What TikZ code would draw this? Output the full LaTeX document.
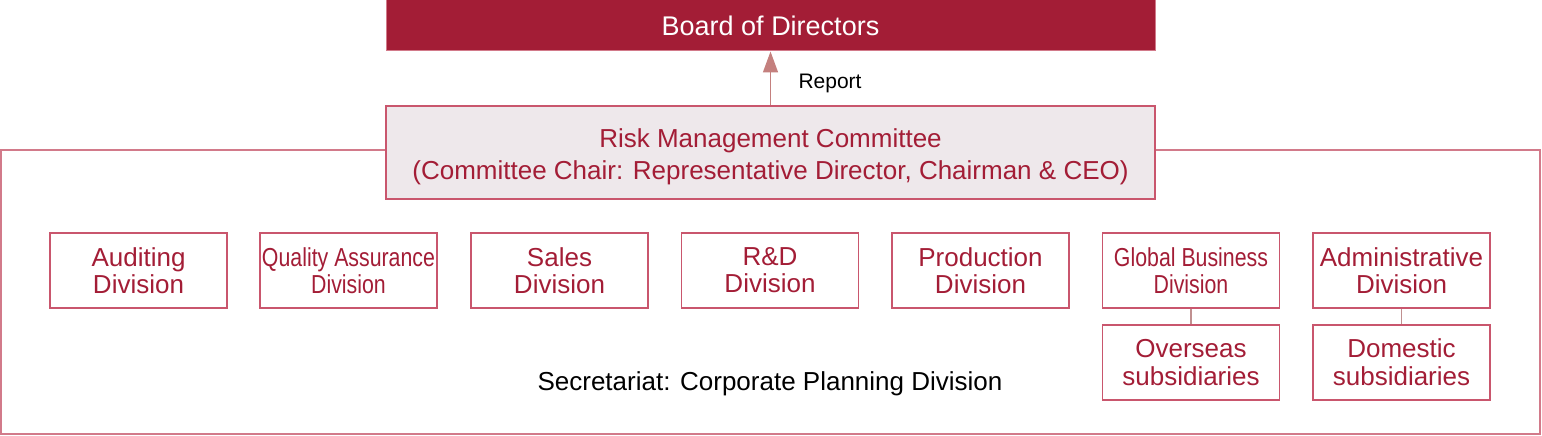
\documentclass[tikz,border=0pt]{standalone}
\usepackage{fontspec}
\setmainfont{Liberation Sans}
\usetikzlibrary{arrows.meta}
\definecolor{crimson}{HTML}{A31D36}
\definecolor{rmcfill}{HTML}{EEE8EB}
\definecolor{boxline}{HTML}{C9566D}
\definecolor{frameline}{HTML}{D27A8A}
\definecolor{arrowcol}{HTML}{C4807E}
\definecolor{linkcol}{HTML}{C09090}
\tikzset{
  divbox/.style={draw=boxline, line width=1.2pt, minimum width=177pt, minimum height=75pt,
    inner sep=0pt, align=center, text=crimson, font=\fontsize{26}{27}\selectfont},
}
\newcommand{\narrowln}[1]{\scalebox{0.82}[1]{#1}}
\begin{document}
\begin{tikzpicture}[x=1pt,y=-1pt]
\useasboundingbox (0,0) rectangle (1542,436);
% outer frame
\draw[frameline, line width=1.2pt] (1,150) rectangle (1540,434);
% board
\node[fill=crimson, draw=frameline, line width=1pt, minimum width=769pt, minimum height=51pt, inner sep=0pt,
  text=white, font=\fontsize{27}{30}\selectfont] (board) at (770.5,25.5) {Board of Directors};
% RMC
\node[fill=rmcfill, draw=boxline, line width=1.2pt, minimum width=769pt, minimum height=93pt, inner sep=0pt] (rmc) at (770.5,152.5) {};
\node[align=center, text=crimson, font=\fontsize{26}{32}\selectfont, inner sep=0pt] (rmctext) at (770.5,157)
  {Risk Management Committee\\(Committee Chair: Representative Director, Chairman \& CEO)};
\draw[arrowcol, line width=1.5pt, -{Triangle[length=21pt,width=15pt]}] (rmc.north) -- (board.south);
\node[anchor=west, font=\fontsize{21}{24}\selectfont] (report) at (795,83) {Report};
% divisions
\node[divbox] (aud) at (138.5,270.5) {Auditing\\Division};
\node[divbox] (qa) at (348.5,270.5) {\narrowln{Quality Assurance}\\\narrowln{Division}};
\node[divbox] (sales) at (559.5,270.5) {Sales\\Division};
\node[divbox] (rd) at (770,270.5) {R\&D\\Division};
\node[divbox] (prod) at (980.5,270.5) {Production\\Division};
\node[divbox] (glob) at (1191,270.5) {\narrowln{Global Business}\\\narrowln{Division}};
\node[divbox] (admin) at (1401.5,270.5) {Administrative\\Division};
\node[divbox, font=\fontsize{26}{28}\selectfont] (over) at (1191,362.5) {Overseas\\subsidiaries};
\node[divbox, font=\fontsize{26}{28}\selectfont] (dom) at (1401.5,362.5) {Domestic\\subsidiaries};
\draw[linkcol, line width=1.2pt] (glob.south) -- (over.north);
\draw[linkcol, line width=1.2pt] (admin.south) -- (dom.north);
\node[font=\fontsize{26}{28}\selectfont] (sec) at (770,384) {Secretariat: Corporate Planning Division};
\end{tikzpicture}
\end{document}
